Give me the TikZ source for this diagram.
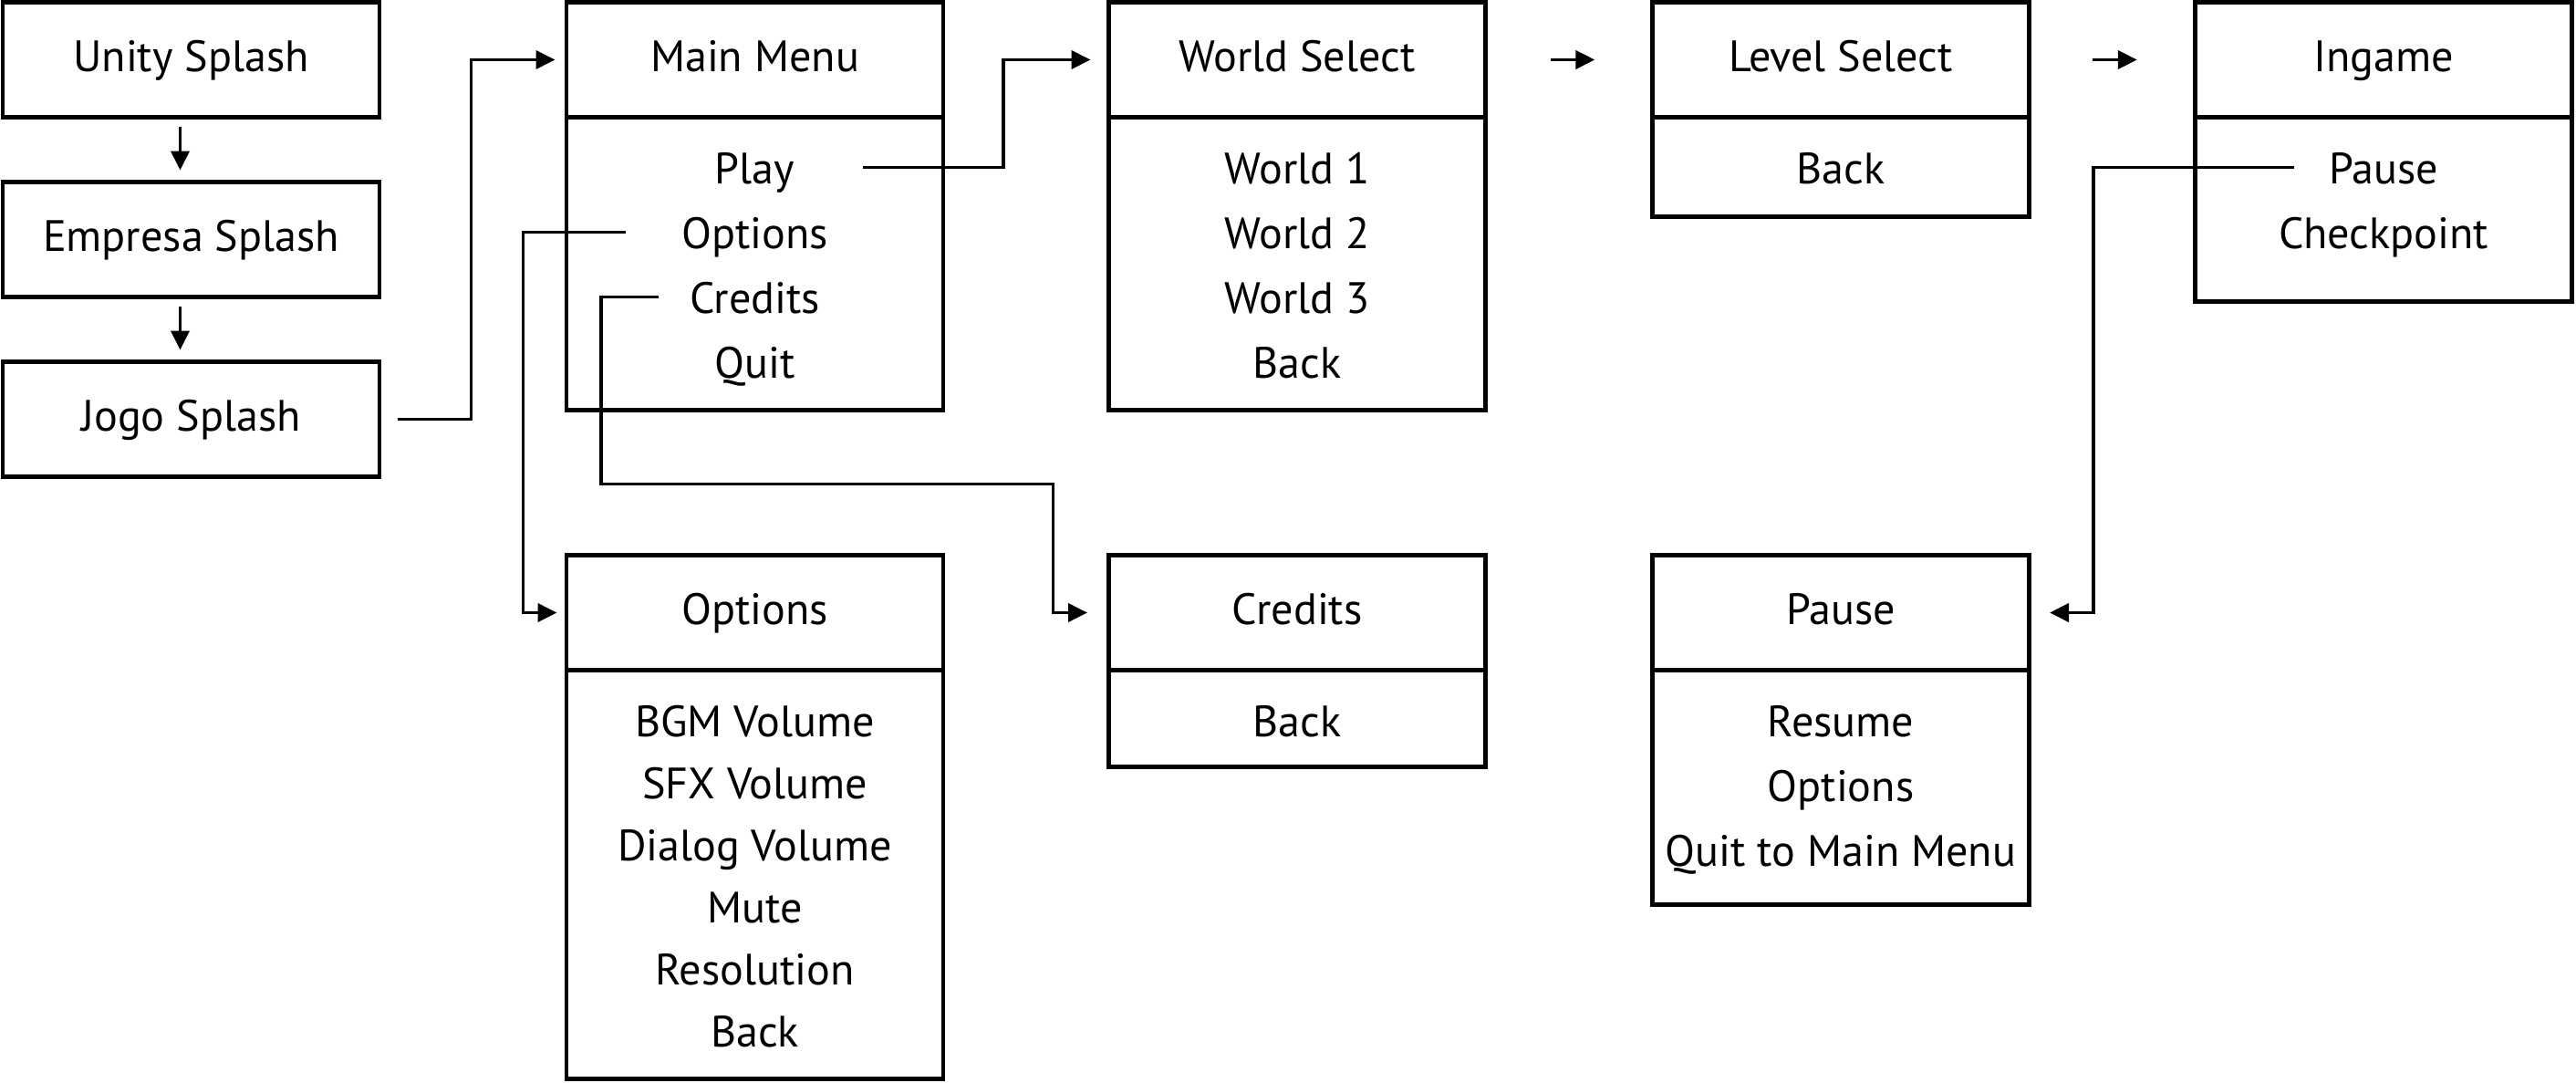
\documentclass[tikz,border=0pt]{standalone}
\usepackage{fontspec}
\setmainfont{PT Sans}
\usetikzlibrary{arrows.meta}
\usetikzlibrary{positioning, calc}

\begin{document}
\begin{tikzpicture}[
    block/.style={draw, line width=1.35pt, outer sep=0pt, minimum width=4.13cm, minimum height=1.26cm, font=\fontsize{13.7}{16}\selectfont, text height=0.35cm, text depth=0.1cm},
    body/.style={block, anchor=north},
    item/.style={font=\fontsize{13.7}{16}\selectfont, inner sep=0pt, text height=0.35cm, text depth=0pt},
    link/.style={line width=1.1pt, -{Triangle[length=0.21cm, width=0.2cm]}}
]
    \useasboundingbox (0,0) rectangle (28.24,-11.86);

    % splash screens
    \draw (2.095,-0.655) node[block] (unity) {Unity Splash};
    \node[block, below=0.71cm of unity] (empresa) {Empresa Splash};
    \node[block, below=0.71cm of empresa] (jogo) {Jogo Splash};

    % menu headers
    \draw (8.275,-0.655) node[block] (mm) {Main Menu};
    \draw (mm) ++(5.945,0) node[block] (ws) {World Select};
    \draw (ws) ++(5.96,0) node[block] (ls) {Level Select};
    \draw (ls) ++(5.95,0) node[block] (ig) {Ingame};
    \draw (mm) ++(0,-6.06) node[block] (op) {Options};
    \draw (ws) ++(0,-6.06) node[block] (cr) {Credits};
    \draw (ls) ++(0,-6.06) node[block] (ps) {Pause};

    % menu bodies
    \foreach \h/\d in {mm/3.21, ws/3.21, ls/1.09, ig/2.02, op/4.48, cr/1.06, ps/2.57} {
        \node[body, minimum height=\d cm] (\h b) at (\h.south) {};
    }
    \foreach \b/\s/\l in {mmb/0.71/{Play,Options,Credits,Quit}, wsb/0.71/{World 1,World 2,World 3,Back}, lsb/0.71/{Back}, igb/0.71/{Pause,Checkpoint}, opb/0.68/{BGM Volume,SFX Volume,Dialog Volume,Mute,Resolution,Back}, crb/0.71/{Back}, psb/0.71/{Resume,Options,Quit to Main Menu}} {
        \foreach \t [count=\i] in \l {
            \draw (\b.north) ++(0,{-0.55-\s*(\i-1)}) node[item] (\b\i) {\t};
        }
    }

    % splash chain
    \draw[link] ([xshift=-0.12cm, yshift=-0.105cm]unity.south) -- ([xshift=-0.12cm, yshift=0.13cm]empresa.north);
    \draw[link] ([xshift=-0.12cm, yshift=-0.105cm]empresa.south) -- ([xshift=-0.12cm, yshift=0.13cm]jogo.north);
    \draw[link] ([xshift=0.195cm]jogo.east) -- ++(0.81,0) |- ([xshift=-0.125cm]mm.west);

    % main menu links
    \draw[link] ($(mmb.east |- mmb1) + (-0.88,0)$) -- ++(1.544,0) |- ([xshift=-0.2cm]ws.west);
    \draw[link] ($(mmb.west |- mmb2) + (0.645,0)$) -- ++(-1.12,0) |- ([xshift=-0.105cm]op.west);
    \draw[link] ($(mmb.west |- mmb3) + (1.01,0)$) -- ++(-0.631,0) -- ++(0,-2.05) -- ++(4.956,0) |- ([xshift=-0.235cm]cr.west);

    % game flow
    \draw[link] ($(ws.east)!0.39!(ls.west)$) -- ($(ws.east)!0.655!(ls.west)$);
    \draw[link] ($(ls.east)!0.38!(ig.west)$) -- ($(ls.east)!0.65!(ig.west)$);
    \draw[link] ($(igb.west |- igb1) + (1.085,0)$) -- ++(-2.2,0) |- ([xshift=0.225cm]ps.east);

\end{tikzpicture}
\end{document}
